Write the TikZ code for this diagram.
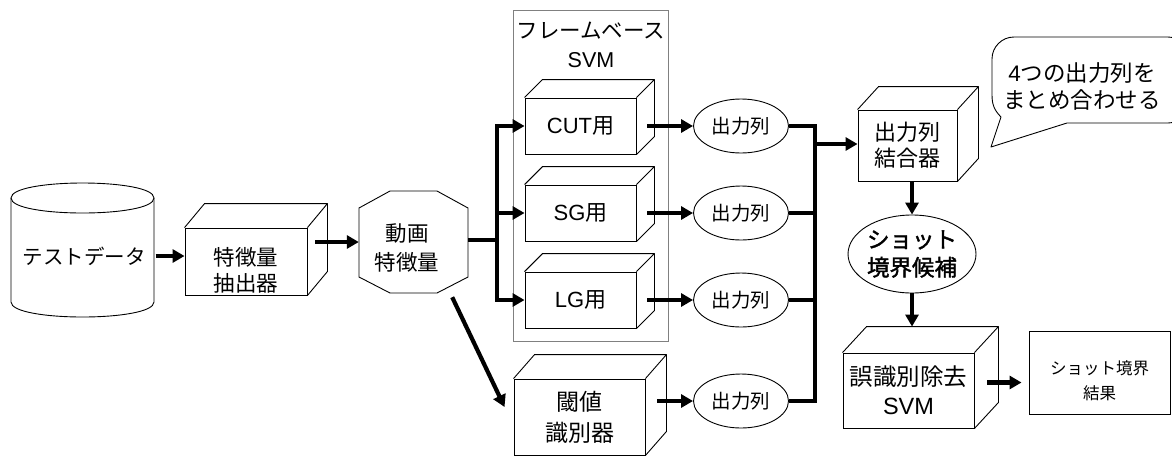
\documentclass[tikz,border=0pt]{standalone}
\usepackage{fontspec}
\setmainfont{Noto Sans CJK JP}
\newfontfamily\lat{Liberation Sans}
\newfontfamily\jpb[FakeBold=1.6]{Noto Sans CJK JP}
\usetikzlibrary{arrows.meta,shapes.geometric,calc}
\newcommand\fs[2]{\fontsize{#1}{#2}\selectfont}
\newcommand\cuboid[3]{\draw[thinln,line join=round] (#1.north west) -- ++(#2,#3) -- ($(#1.north east)+(#2,#3)$) -- (#1.north east) ($(#1.north east)+(#2,#3)$) -- ($(#1.south east)+(#2,#3)$) -- (#1.south east);}
\begin{document}
\begin{tikzpicture}[x=1pt,y=-1pt,
  thinln/.style={line width=0.9pt},
  conn/.style={line width=4.2pt},
  arr/.style={conn,-{Triangle[length=12pt,width=13pt]}},
  face/.style={draw,line width=0.9pt,inner sep=0pt,align=center},
  oval/.style={draw,ellipse,line width=0.9pt,inner sep=0pt,align=center},
  txt/.style={inner sep=0pt,align=center}]
\clip (0,0) rectangle (1172,456);
\fill[white] (0,0) rectangle (1172,456);

% cylinder
\draw[thinln] (11,198) .. controls (11,178) and (154,178) .. (154,198) .. controls (154,218) and (11,218) .. (11,198);
\draw[thinln] (11,198) -- (11,302) .. controls (11,322) and (154,322) .. (154,302) -- (154,198);
\node[txt,font=\fs{20.5}{25},minimum width=143pt] (data) at (84,256) {テストデータ};

% feature extractor
\node[face,minimum width=122pt,minimum height=67pt] (ext) at (246,261.5) {};
\cuboid{ext}{20}{-24}
\node[txt,font=\fs{21.5}{26}] (exttxt) at (246,270.5) {特徴量\\抽出器};

% octagon
\node[inner sep=0pt,minimum width=109pt,minimum height=102pt] (oct) at (413.5,242) {};
\draw[thinln] (390,191) -- (437,191) -- (468,208) -- (468,277) -- (437,293) -- (390,293) -- (359,277) -- (359,208) -- cycle;
\node[txt,font=\fs{21.5}{29}] (octtxt) at (407,247.5) {動画\\特徴量};

% frame
\node[draw=gray,line width=0.8pt,minimum width=155pt,minimum height=331pt,inner sep=0pt] (frame) at (590.5,175.5) {};
\node[txt,font=\fs{21.5}{28.5}] (ftitle) at (591,45) {フレームベース\\{\lat SVM}};

\node[face,font=\fs{22}{25},minimum width=111pt,minimum height=56pt] (cut) at (580.5,126) {{\lat CUT}用};
\cuboid{cut}{18}{-18}
\node[face,font=\fs{22}{25},minimum width=111pt,minimum height=56pt] (sg) at (580.5,213) {{\lat SG}用};
\cuboid{sg}{18}{-18}
\node[face,font=\fs{22}{25},minimum width=111pt,minimum height=56pt] (lg) at (580.5,300) {{\lat LG}用};
\cuboid{lg}{18}{-18}

% threshold
\node[face,font=\fs{23}{31},minimum width=131pt,minimum height=76pt] (thr) at (579.5,417) {閾値\\識別器};
\cuboid{thr}{21}{-24}

% outputs
\node[oval,minimum width=95pt,minimum height=54pt,font=\fs{19.5}{22}] (o1) at (741,126) {出力列};
\node[oval,minimum width=95pt,minimum height=54pt,font=\fs{19.5}{22}] (o2) at (741,213) {出力列};
\node[oval,minimum width=95pt,minimum height=54pt,font=\fs{19.5}{22}] (o3) at (741,300) {出力列};
\node[oval,minimum width=95pt,minimum height=54pt,font=\fs{19.5}{22}] (o4) at (741,401) {出力列};

% combiner
\node[face,font=\fs{22}{26},minimum width=99pt,minimum height=71pt] (comb) at (907.5,145.5) {出力列\\結合器};
\cuboid{comb}{21}{-23}

\node[oval,minimum width=128pt,minimum height=78pt,font=\jpb\fs{22.5}{28}] (cand) at (912,254) {ショット\\境界候補};

\node[face,font=\fs{23.5}{29},minimum width=131pt,minimum height=75pt] (svm) at (908.5,390.5) {誤識別除去\\{\lat SVM}};
\cuboid{svm}{24}{-26}

\node[face,minimum width=141pt,minimum height=83pt] (res) at (1099.5,372.5) {};
\node[txt,font=\fs{16.5}{25}] (restxt) at (1099.5,380.5) {ショット境界\\結果};

% callout
\draw[thinln,line join=round] (1067,123) -- (991,147) -- (1001,117) .. controls (994,110) and (992,104) .. (992,95) [rounded corners=22pt] -- (992,37) -- (1190,37) -- (1190,123) -- (1067,123);
\node[txt,font=\fs{22.5}{27}] (note) at (1082,86) {{\lat 4}つの出力列を\\まとめ合わせる};

% connectors
\draw[arr] (data.east) -- (data.east -| ext.west);
\coordinate (extout) at ([xshift=8pt]ext.east);
\draw[arr] (extout |- oct.west) -- (oct.west);
\coordinate (split) at (497,240);
\draw[conn] (oct.east |- split) -- (split);
\draw[arr] (split) |- (cut.west);
\draw[arr] (split) |- (sg.west);
\draw[arr] (split) |- (lg.west);
\coordinate (octdn) at ($(oct.south east)+(-16,4)$);
\coordinate (thrin) at ($(thr.west)+(-9,-10)$);
\draw[arr] (octdn) -- (thrin);

\coordinate (cutout) at ([xshift=11pt]cut.east);
\coordinate (sgout) at ([xshift=11pt]sg.east);
\coordinate (lgout) at ([xshift=11pt]lg.east);
\coordinate (throut) at ([xshift=12pt]thr.east);
\draw[arr] (cutout) -- (o1.west);
\draw[arr] (sgout) -- (o2.west);
\draw[arr] (lgout) -- (o3.west);
\draw[arr] (throut |- o4.west) -- (o4.west);

\coordinate (bus) at (815,144);
\draw[conn] (o1.east) -| (o4.east -| bus) -- (o4.east);
\draw[conn] (o2.east) -- (o2.east -| bus);
\draw[conn] (o3.east) -- (o3.east -| bus);
\draw[arr] (bus) -- (bus -| comb.west);

\draw[arr] (comb.south -| cand.north) -- (cand.north);
\coordinate (svmback) at ($(svm.north)+(0,-26)$);
\draw[arr] (cand.south) -- (cand.south |- svmback);
\coordinate (svmout) at ($(svm.east)+(13,-8)$);
\draw[arr,shorten >=7pt] (svmout) -- (svmout -| res.west);
\end{tikzpicture}
\end{document}
